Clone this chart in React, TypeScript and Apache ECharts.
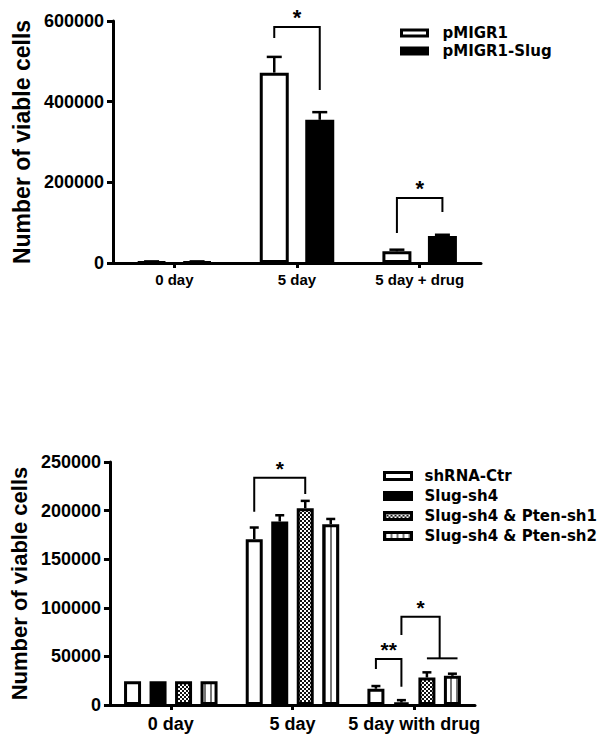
import React, { useEffect, useRef } from 'react';
import * as echarts from 'echarts';

// ---------- Top chart data ----------
const topCategories = ['0 day', '5 day', '5 day + drug'];
const topNames = ['pMIGR1', 'pMIGR1-Slug'];
const pMIGR1Values = [3000, 472000, 29000];
const pMIGR1Errors = [1000, 39000, 4000];
const pMIGR1SlugValues = [3000, 355000, 67000];
const pMIGR1SlugErrors = [1000, 19000, 3000];
const topYTicks = [0, 200000, 400000, 600000];
const topBrackets = [
  { cat: 1, from: 0, to: 1, top: 585000, left: 558000, right: 429000, mark: '*' },
  { cat: 2, from: 0, to: 1, top: 161000, left: 74400, right: 126400, mark: '*' },
];

// ---------- Bottom chart data ----------
const bottomCategories = ['0 day', '5 day', '5 day with drug'];
const bottomNames = ['shRNA-Ctr', 'Slug-sh4', 'Slug-sh4 & Pten-sh1', 'Slug-sh4 & Pten-sh2'];
const shCtrValues = [24500, 170600, 16700];
const shCtrErrors = [0, 12000, 2800];
const slugSh4Values = [24500, 188800, 2500];
const slugSh4Errors = [0, 6400, 2500];
const ptenSh1Values = [24500, 202500, 28300];
const ptenSh1Errors = [0, 7500, 5300];
const ptenSh2Values = [24500, 186000, 30000];
const ptenSh2Errors = [0, 5400, 2200];
const bottomYTicks = [0, 50000, 100000, 150000, 200000, 250000];
const bottomBrackets = [
  { cat: 1, from: 0, to: 2, top: 233900, left: 198900, right: 217100, mark: '*' },
  { cat: 2, from: 0, to: 1, top: 47300, left: 37000, right: 18800, mark: '**' },
  { cat: 2, from: 1, to: 2.5, top: 90800, left: 72000, right: 48000, mark: '*' },
];
const bottomFeet = [{ cat: 2, from: 2, to: 3.2, y: 48000 }];

// ---------- layout constants ----------
const TOP_BW = 29;
const TOP_GAP = 16.5;
const BOT_BW = 17;
const BOT_GAP = 8.5;
const FONT = 'Liberation Sans, Arial, sans-serif';

function checkerPattern(): any {
  const c = document.createElement('canvas');
  c.width = 4;
  c.height = 4;
  const ctx = c.getContext('2d')!;
  ctx.fillStyle = '#ffffff';
  ctx.fillRect(0, 0, 4, 4);
  ctx.fillStyle = '#111111';
  ctx.fillRect(0, 0, 2, 2);
  ctx.fillRect(2, 2, 2, 2);
  return { image: c, repeat: 'repeat' };
}

function stripePattern(): any {
  const c = document.createElement('canvas');
  c.width = 6;
  c.height = 4;
  const ctx = c.getContext('2d')!;
  ctx.fillStyle = '#ffffff';
  ctx.fillRect(0, 0, 6, 4);
  ctx.fillStyle = '#777777';
  ctx.fillRect(0, 0, 2, 4);
  return { image: c, repeat: 'repeat' };
}

function barOffset(i: number, n: number, bw: number, gap: number) {
  return (i - (n - 1) / 2) * (bw + gap);
}

function errorSeries(gi: number, values: number[][], errors: number[][], bw: number, gap: number, capW: number) {
  const data: number[][] = [];
  values.forEach((vals, si) => vals.forEach((v, ci) => data.push([ci, v, errors[si][ci], si])));
  const n = values.length;
  return {
    type: 'custom',
    xAxisIndex: gi,
    yAxisIndex: gi,
    z: 5,
    clip: false,
    silent: true,
    encode: { x: 0, y: 1 },
    data,
    renderItem: (params: any, api: any) => {
      const ci = api.value(0);
      const v = api.value(1);
      const e = api.value(2);
      const si = api.value(3);
      if (!e) return { type: 'group', children: [] };
      const p0 = api.coord([ci, v]);
      const p1 = api.coord([ci, v + e]);
      const x = p0[0] + barOffset(si, n, bw, gap);
      return {
        type: 'group',
        children: [
          { type: 'line', shape: { x1: x, y1: p0[1], x2: x, y2: p1[1] }, style: { stroke: '#000', lineWidth: 2.5 } },
          { type: 'line', shape: { x1: x - capW / 2, y1: p1[1], x2: x + capW / 2, y2: p1[1] }, style: { stroke: '#000', lineWidth: 2.5 } },
        ],
      };
    },
  };
}

function bracketSeries(gi: number, brackets: any[], n: number, bw: number, gap: number, starSize: number) {
  return {
    type: 'custom',
    xAxisIndex: gi,
    yAxisIndex: gi,
    z: 6,
    clip: false,
    silent: true,
    encode: { x: 0, y: 1 },
    data: brackets.map((b) => [b.cat, b.top, b.from, b.to, b.left, b.right]),
    renderItem: (params: any, api: any) => {
      const b = brackets[params.dataIndex];
      const cx = api.coord([b.cat, 0])[0];
      const xL = cx + barOffset(b.from, n, bw, gap);
      const xR = cx + barOffset(b.to, n, bw, gap);
      const yT = api.coord([b.cat, b.top])[1];
      const yL = api.coord([b.cat, b.left])[1];
      const yR = api.coord([b.cat, b.right])[1];
      return {
        type: 'group',
        children: [
          {
            type: 'polyline',
            shape: { points: [[xL, yL], [xL, yT], [xR, yT], [xR, yR]] },
            style: { stroke: '#000', lineWidth: 2, fill: 'none' },
          },
          {
            type: 'text',
            x: (xL + xR) / 2,
            y: yT + 1,
            style: {
              text: b.mark,
              fill: '#000',
              font: `bold ${starSize}px ${FONT}`,
              align: 'center',
              verticalAlign: 'bottom',
            },
          },
        ],
      };
    },
  };
}

function feetSeries(gi: number, feet: any[], n: number, bw: number, gap: number) {
  return {
    type: 'custom',
    xAxisIndex: gi,
    yAxisIndex: gi,
    z: 6,
    clip: false,
    silent: true,
    encode: { x: 0, y: 1 },
    data: feet.map((f) => [f.cat, f.y]),
    renderItem: (params: any, api: any) => {
      const f = feet[params.dataIndex];
      const cx = api.coord([f.cat, 0])[0];
      const y = api.coord([f.cat, f.y])[1];
      return {
        type: 'line',
        shape: { x1: cx + barOffset(f.from, n, bw, gap), y1: y, x2: cx + barOffset(f.to, n, bw, gap), y2: y },
        style: { stroke: '#000', lineWidth: 2 },
      };
    },
  };
}

function valueAxis(gi: number, ticks: number[], nameSize: number, gapName: number) {
  return {
    type: 'value',
    gridIndex: gi,
    min: ticks[0],
    max: ticks[ticks.length - 1],
    interval: ticks[1] - ticks[0],
    name: 'Number of viable cells',
    nameLocation: 'middle',
    nameGap: gapName,
    nameTextStyle: { fontFamily: FONT, fontWeight: 'bold', fontSize: nameSize, color: '#000' },
    axisLine: { show: true, lineStyle: { color: '#000', width: 3 } },
    axisTick: { show: true, length: 6, lineStyle: { color: '#000', width: 3 } },
    axisLabel: {
      fontFamily: FONT,
      fontWeight: 'bold',
      fontSize: 18,
      color: '#000',
      margin: 9,
      formatter: (v: number) => String(v),
    },
    splitLine: { show: false },
  };
}

function categoryAxis(gi: number, cats: string[], size: number, margin: number) {
  return {
    type: 'category',
    gridIndex: gi,
    data: cats,
    axisLine: { show: true, lineStyle: { color: '#000', width: 3 } },
    axisTick: { show: true, alignWithLabel: true, length: 5, lineStyle: { color: '#000', width: 3 } },
    axisLabel: { fontFamily: FONT, fontWeight: 'bold', fontSize: size, color: '#000', margin, interval: 0 },
    splitLine: { show: false },
  };
}

function barSeries(gi: number, name: string, data: number[], color: any, bw: number, gap: number) {
  return {
    type: 'bar',
    name,
    xAxisIndex: gi,
    yAxisIndex: gi,
    data,
    barWidth: bw,
    barGap: `${(gap / bw) * 100}%`,
    itemStyle: { color, borderColor: '#000', borderWidth: 3 },
    silent: true,
  };
}

export default function App() {
  const ref = useRef<HTMLDivElement>(null);
  useEffect(() => {
    if (!ref.current) return;
    const chart = echarts.init(ref.current, undefined, { renderer: 'svg' });
    const checker = checkerPattern();
    const stripes = stripePattern();
    const legendText = { fontFamily: 'DejaVu Sans', fontWeight: 'bold', fontSize: 15, color: '#000' };
    const option: any = {
      animation: false,
      backgroundColor: '#fff',
      grid: [
        { left: 113, top: 21, width: 368, height: 242 },
        { left: 108, top: 462, width: 367, height: 243 },
      ],
      legend: [
        {
          data: topNames,
          orient: 'vertical',
          left: 400,
          top: 25.5,
          padding: 0,
          itemWidth: 26,
          itemHeight: 6,
          itemGap: 3,
          icon: 'rect',
          selectedMode: false,
          itemStyle: { borderColor: '#000', borderWidth: 3 },
          textStyle: { ...legendText, padding: [0, 0, 0, 10] },
        },
        {
          data: bottomNames,
          orient: 'vertical',
          left: 383,
          top: 468.5,
          padding: 0,
          itemWidth: 27,
          itemHeight: 7,
          itemGap: 5,
          icon: 'rect',
          selectedMode: false,
          itemStyle: { borderColor: '#000', borderWidth: 3 },
          textStyle: { ...legendText, padding: [0, 0, 0, 8] },
        },
      ],
      xAxis: [categoryAxis(0, topCategories, 15, 9), categoryAxis(1, bottomCategories, 18, 10)],
      yAxis: [valueAxis(0, topYTicks, 23, 75), valueAxis(1, bottomYTicks, 22, 75)],
      series: [
        barSeries(0, topNames[0], pMIGR1Values, '#ffffff', TOP_BW, TOP_GAP),
        barSeries(0, topNames[1], pMIGR1SlugValues, '#000000', TOP_BW, TOP_GAP),
        barSeries(1, bottomNames[0], shCtrValues, '#ffffff', BOT_BW, BOT_GAP),
        barSeries(1, bottomNames[1], slugSh4Values, '#000000', BOT_BW, BOT_GAP),
        barSeries(1, bottomNames[2], ptenSh1Values, checker, BOT_BW, BOT_GAP),
        barSeries(1, bottomNames[3], ptenSh2Values, stripes, BOT_BW, BOT_GAP),
        errorSeries(0, [pMIGR1Values, pMIGR1SlugValues], [pMIGR1Errors, pMIGR1SlugErrors], TOP_BW, TOP_GAP, 15),
        errorSeries(
          1,
          [shCtrValues, slugSh4Values, ptenSh1Values, ptenSh2Values],
          [shCtrErrors, slugSh4Errors, ptenSh1Errors, ptenSh2Errors],
          BOT_BW,
          BOT_GAP,
          9
        ),
        bracketSeries(0, topBrackets, 2, TOP_BW, TOP_GAP, 22),
        bracketSeries(1, bottomBrackets, 4, BOT_BW, BOT_GAP, 21),
        feetSeries(1, bottomFeet, 4, BOT_BW, BOT_GAP),
      ],
    };
    chart.setOption(option);
    return () => chart.dispose();
  }, []);
  return (
    <div
      ref={ref}
      style={{ position: 'absolute', left: 0, top: 0, width: 602, height: 744, background: '#fff' }}
    />
  );
}
